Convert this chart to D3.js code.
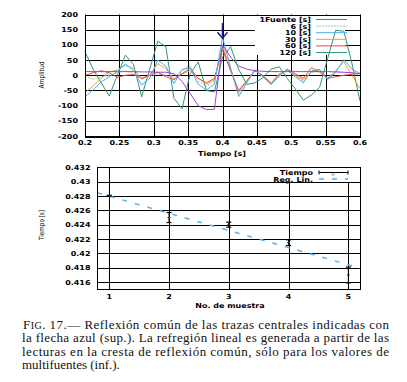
<!DOCTYPE html>
<html>
<head>
<meta charset="utf-8">
<script src="https://cdn.jsdelivr.net/npm/d3@7"></script>
<style>
  body { margin: 0; background: #fff; }
  svg { display: block; }
</style>
</head>
<body>
<div id="chart"></div>
<script>
// top panel: traces (time in s, amplitude)
const times = [0.2, 0.2118, 0.2235, 0.2353, 0.2471, 0.2588, 0.2706, 0.2824, 0.2941, 0.3059,
  0.3176, 0.3294, 0.3412, 0.3529, 0.3647, 0.3765, 0.3882, 0.4, 0.4118, 0.4235,
  0.4353, 0.4471, 0.4588, 0.4706, 0.4824, 0.4941, 0.5059, 0.5176, 0.5294, 0.5412,
  0.5529, 0.5647, 0.5765, 0.5882, 0.6];
const fuente1 = [12, 12, 12, 12, 12, 12, 12, 11, 11, 10, 10, 5, -20, -60, -100, -113, -112, 100, 60, 30,
  20, 15, 13, 12, 12, 12, 12, 12, 12, 12, 12, 11, 10, 8, 5];
const s6 = [-3, -13, -5, 0, 8, 15, 5, -10, -3, 5, 0, -12, 20, 30, -20, -37, -20, 100, 20, -60,
  -22, 17, -5, -32, -5, 20, 0, -20, 12, 18, -12, 12, 8, 10, 3];
const s10 = [-72, -48, -22, -5, 12, 38, 15, -32, -10, 50, 30, -28, 18, 25, -30, -48, -30, 125, 25, -70,
  -25, 18, -5, -30, 0, 18, -5, -25, 15, 20, -15, 10, 52, 20, 6];
const s30 = [-58, -35, -10, 10, 18, 33, 22, -13, 0, 38, 22, -13, 5, 15, -10, -30, -15, 95, 20, -55,
  -20, 15, 0, -25, 5, 15, 0, -15, 10, 15, -10, 15, 45, 0, -44];
const s60 = [0, 8, 15, 8, -7, 0, 2, -10, 0, 10, -5, -15, 5, 23, -10, -25, -10, 85, 15, -50,
  -18, 15, -2, -28, 0, 20, 5, -10, 25, 10, -10, -5, 0, 3, 6];
const s120 = [77, 20, -25, -68, 0, 66, 35, -71, 20, 112, 94, -76, -110, 5, 44, -50, -55, 60, 94, 20,
  -30, -25, -8, 20, 28, -10, -45, -82, -65, -40, 55, 148, 145, 40, -85];
const seriesNames = ['1Fuente [s]', '6 [s]', '10 [s]', '30 [s]', '60 [s]', '120 [s]'];
const seriesColors = ['#a040e0', '#98cc98', '#48aef0', '#f0a030', '#f04848', '#2e9672'];
const ampTicks = [-200, -150, -100, -50, 0, 50, 100, 150, 200];
const timeTicks = [0.2, 0.25, 0.3, 0.35, 0.4, 0.45, 0.5, 0.55, 0.6];
const arrowPos = [0.4, 172, 122]; // time, tail amp, tip amp

// bottom panel: picks per sample number
const sampleNo = [1, 2, 3, 4, 5];
const tiempo = [0.42805, 0.425, 0.424, 0.4215, 0.417];
const tiempoErr = [0.00005, 0.0007, 0.00035, 0.0004, 0.0011];
const regLine = [0.43037, -0.00239]; // intercept, slope
const tiempoTicks = [0.416, 0.418, 0.42, 0.422, 0.424, 0.426, 0.428, 0.43, 0.432];

const captionLines = [
  'Reflexión común de las trazas centrales indicadas con',
  'la flecha azul (sup.). La refregión lineal es generada a partir de las',
  'lecturas en la cresta de reflexión común, sólo para los valores de',
  'multifuentes (inf.).'
];

const W = 407, H = 382;
const svg = d3.select('#chart').append('svg')
  .attr('width', W).attr('height', H)
  .style('font-family', 'DejaVu Sans, sans-serif');
svg.append('rect').attr('width', W).attr('height', H).attr('fill', '#fff');

const crisp = v => Math.round(v) + 0.5;

// the plot fonts are wide and short: measure at 8px bold, draw at 6.8px stretched
function wide(sel) {
  sel.style('font-size', '8px').style('font-weight', 'bold');
  sel.each(function () {
    const len = this.getComputedTextLength();
    d3.select(this).style('font-size', '6.8px')
      .attr('textLength', len).attr('lengthAdjust', 'spacingAndGlyphs');
  });
  return sel;
}

// ---------- top panel ----------
const x1 = d3.scaleLinear().domain([0.2, 0.6]).range([85, 360]);
const y1 = d3.scaleLinear().domain([-200, 200]).range([136, 14.5]);
const topG = svg.append('g');

topG.selectAll('line.hg').data(ampTicks).join('line')
  .attr('x1', x1(0.2)).attr('x2', x1(0.6))
  .attr('y1', d => crisp(y1(d))).attr('y2', d => crisp(y1(d)))
  .attr('stroke', '#000').attr('stroke-width', 1);
topG.selectAll('line.vg').data(timeTicks).join('line')
  .attr('y1', y1(-200)).attr('y2', y1(200))
  .attr('x1', d => crisp(x1(d))).attr('x2', d => crisp(x1(d)))
  .attr('stroke', '#000').attr('stroke-width', 1);

// key area hides the grid
topG.append('rect').attr('x', 255).attr('y', 15).attr('width', 90).attr('height', 40).attr('fill', '#fff');

const allSeries = [fuente1, s6, s10, s30, s60, s120];
const line1 = d3.line().x((d, i) => x1(times[i])).y(d => y1(d));
// draw order: keep the big-swing trace behind
[5, 1, 3, 4, 2, 0].forEach(si => {
  topG.append('path').datum(allSeries[si])
    .attr('d', line1)
    .attr('fill', 'none')
    .attr('stroke', seriesColors[si])
    .attr('stroke-width', 1)
    .attr('stroke-dasharray', si === 1 ? '2,1' : null);
});

// key
seriesNames.forEach((name, i) => {
  const yy = 19.5 + i * 6.6;
  wide(topG.append('text').attr('x', 311).attr('y', yy + 2.5)
    .attr('text-anchor', 'end').text(name));
  topG.append('line').attr('x1', 316).attr('x2', 347).attr('y1', yy).attr('y2', yy)
    .attr('stroke', seriesColors[i]).attr('stroke-width', 1)
    .attr('stroke-dasharray', i === 1 ? '2,1' : null);
});

// arrow
const ax = x1(arrowPos[0]);
topG.append('line').attr('x1', ax).attr('x2', ax)
  .attr('y1', y1(arrowPos[1])).attr('y2', y1(arrowPos[2]))
  .attr('stroke', '#1c1c8a').attr('stroke-width', 1.5);
topG.append('path')
  .attr('d', `M${ax - 5},${y1(arrowPos[2]) - 6}L${ax},${y1(arrowPos[2])}L${ax + 5},${y1(arrowPos[2]) - 6}`)
  .attr('fill', 'none').attr('stroke', '#1c1c8a').attr('stroke-width', 1.5);

topG.append('rect').attr('x', crisp(x1(0.2))).attr('y', crisp(y1(200)))
  .attr('width', Math.round(x1(0.6) - x1(0.2))).attr('height', Math.round(y1(-200) - y1(200)))
  .attr('fill', 'none').attr('stroke', '#000').attr('stroke-width', 1);

wide(topG.selectAll('text.yt').data(ampTicks).join('text')
  .attr('x', 78).attr('y', d => y1(d) + 2.5)
  .attr('text-anchor', 'end').text(d => d));
wide(topG.selectAll('text.xt').data(timeTicks).join('text')
  .attr('x', d => x1(d)).attr('y', 144.5)
  .attr('text-anchor', 'middle').text(d => d3.format('')(d)));
wide(topG.append('text').attr('x', 222).attr('y', 155.5)
  .attr('text-anchor', 'middle').text('Tiempo [s]'));
topG.append('text').attr('transform', 'translate(44,75) rotate(-90)')
  .attr('text-anchor', 'middle').style('font-size', '7px')
  .attr('textLength', 27).attr('lengthAdjust', 'spacingAndGlyphs')
  .text('Amplitud');

// ---------- bottom panel ----------
const x2 = d3.scaleLinear().domain([0.8, 5.2]).range([97.3, 360.3]);
const y2 = d3.scaleLinear().domain([0.415, 0.432]).range([289.3, 167.3]);
const bot = svg.append('g');

bot.selectAll('line.hg').data(tiempoTicks).join('line')
  .attr('x1', x2(0.8)).attr('x2', x2(5.2))
  .attr('y1', d => crisp(y2(d))).attr('y2', d => crisp(y2(d)))
  .attr('stroke', '#000').attr('stroke-width', 1);
bot.selectAll('line.vg').data(sampleNo).join('line')
  .attr('y1', y2(0.415)).attr('y2', y2(0.432))
  .attr('x1', d => crisp(x2(d))).attr('x2', d => crisp(x2(d)))
  .attr('stroke', '#000').attr('stroke-width', 1);

bot.append('rect').attr('x', 255).attr('y', 168).attr('width', 98).attr('height', 14).attr('fill', '#fff');

// regression line
bot.append('line')
  .attr('x1', x2(0.8)).attr('y1', y2(regLine[0] + regLine[1] * 0.8))
  .attr('x2', x2(5.2)).attr('y2', y2(regLine[0] + regLine[1] * 5.2))
  .attr('stroke', '#5ab2f0').attr('stroke-width', 1.5).attr('stroke-dasharray', '5,8');

// error bars
sampleNo.forEach((n, i) => {
  const cx = x2(n);
  const yTop = y2(tiempo[i] + tiempoErr[i]), yBot = y2(tiempo[i] - tiempoErr[i]);
  bot.append('line').attr('x1', cx).attr('x2', cx).attr('y1', yTop).attr('y2', yBot)
    .attr('stroke', '#000').attr('stroke-width', 1);
  [yTop, yBot].forEach(yy => bot.append('line')
    .attr('x1', cx - 2.5).attr('x2', cx + 2.5).attr('y1', yy).attr('y2', yy)
    .attr('stroke', '#000').attr('stroke-width', 1.2));
  bot.append('path').attr('d', `M${cx - 1.5},${y2(tiempo[i])}h3`)
    .attr('stroke', '#333').attr('stroke-width', 1);
});

// key
wide(bot.append('text').attr('x', 313).attr('y', 175).attr('text-anchor', 'end').text('Tiempo'));
bot.append('line').attr('x1', 319).attr('x2', 348).attr('y1', 172.5).attr('y2', 172.5)
  .attr('stroke', '#000').attr('stroke-width', 1);
[319, 348].forEach(xx => bot.append('line').attr('x1', xx).attr('x2', xx)
  .attr('y1', 170.5).attr('y2', 174.5).attr('stroke', '#000').attr('stroke-width', 1));
bot.append('path').attr('d', 'M331.5,173.5l1.5,2l1.5,-2').attr('fill', 'none').attr('stroke', '#888');
wide(bot.append('text').attr('x', 313).attr('y', 181.5).attr('text-anchor', 'end').text('Reg. Lin.'));
bot.append('line').attr('x1', 319).attr('x2', 348).attr('y1', 179).attr('y2', 179)
  .attr('stroke', '#5ab2f0').attr('stroke-width', 1.5).attr('stroke-dasharray', '5,8');

bot.append('rect').attr('x', crisp(x2(0.8))).attr('y', crisp(y2(0.432)))
  .attr('width', Math.round(x2(5.2) - x2(0.8))).attr('height', Math.round(y2(0.415) - y2(0.432)))
  .attr('fill', 'none').attr('stroke', '#000').attr('stroke-width', 1);

wide(bot.selectAll('text.yt').data(tiempoTicks).join('text')
  .attr('x', 90.5).attr('y', d => y2(d) + 2.5)
  .attr('text-anchor', 'end').text(d => d3.format('')(d)));
wide(bot.selectAll('text.xt').data(sampleNo).join('text')
  .attr('x', d => x2(d)).attr('y', 299)
  .attr('text-anchor', 'middle').text(d => d));
wide(bot.append('text').attr('x', 230).attr('y', 307.5)
  .attr('text-anchor', 'middle').text('No. de muestra'));
bot.append('text').attr('transform', 'translate(44,225) rotate(-90)')
  .attr('text-anchor', 'middle').style('font-size', '7px')
  .attr('textLength', 30).attr('lengthAdjust', 'spacingAndGlyphs')
  .text('Tiempo [s]');

// ---------- caption ----------
const cap = svg.append('g').style('font-family', 'Liberation Serif, serif').style('fill', '#111');
const baselines = [329, 342.3, 355.6, 369];
const first = cap.append('text').attr('x', 23).attr('y', baselines[0])
  .style('font-size', '13px').attr('textLength', 366).attr('lengthAdjust', 'spacing');
first.append('tspan').text('F');
first.append('tspan').style('font-size', '10px').text('IG');
first.append('tspan').text('. 17.— ' + captionLines[0]);
captionLines.slice(1).forEach((t, i) => {
  const el = cap.append('text').attr('x', 22).attr('y', baselines[i + 1])
    .style('font-size', '13px').text(t);
  if (i < 2) el.attr('textLength', 367).attr('lengthAdjust', 'spacing');
});
</script>
</body>
</html>
